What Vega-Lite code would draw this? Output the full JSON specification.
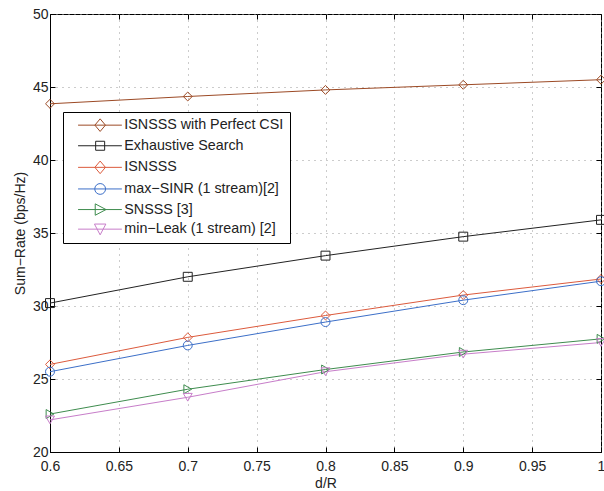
{
  "$schema": "https://vega.github.io/schema/vega-lite/v6.json",
  "autosize": "none",
  "width": 551,
  "height": 438,
  "padding": {"left": 50, "top": 14, "right": 3, "bottom": 39},
  "background": "white",
  "config": {
    "font": "Liberation Sans",
    "view": {"stroke": "#000", "strokeWidth": 1},
    "axis": {
      "labelFont": "Liberation Sans",
      "labelFontSize": 14,
      "labelColor": "#222",
      "titleFont": "Liberation Sans",
      "titleFontSize": 14,
      "titleFontWeight": "normal",
      "titleColor": "#222",
      "domainColor": "#000",
      "tickColor": "#000",
      "gridColor": "#999",
      "gridDash": [1, 5],
      "gridOpacity": 1
    }
  },
  "data": {
    "values": [
      {"series": "ISNSSS with Perfect CSI", "x": 0.6, "y": 43.85},
      {"series": "ISNSSS with Perfect CSI", "x": 0.7, "y": 44.35},
      {"series": "ISNSSS with Perfect CSI", "x": 0.8, "y": 44.8},
      {"series": "ISNSSS with Perfect CSI", "x": 0.9, "y": 45.15},
      {"series": "ISNSSS with Perfect CSI", "x": 1.0, "y": 45.5},
      {"series": "Exhaustive Search", "x": 0.6, "y": 30.2},
      {"series": "Exhaustive Search", "x": 0.7, "y": 32.0},
      {"series": "Exhaustive Search", "x": 0.8, "y": 33.45},
      {"series": "Exhaustive Search", "x": 0.9, "y": 34.75},
      {"series": "Exhaustive Search", "x": 1.0, "y": 35.9},
      {"series": "ISNSSS", "x": 0.6, "y": 26.0},
      {"series": "ISNSSS", "x": 0.7, "y": 27.85},
      {"series": "ISNSSS", "x": 0.8, "y": 29.35},
      {"series": "ISNSSS", "x": 0.9, "y": 30.75},
      {"series": "ISNSSS", "x": 1.0, "y": 31.85},
      {"series": "max−SINR (1 stream)[2]", "x": 0.6, "y": 25.5},
      {"series": "max−SINR (1 stream)[2]", "x": 0.7, "y": 27.3},
      {"series": "max−SINR (1 stream)[2]", "x": 0.8, "y": 28.9},
      {"series": "max−SINR (1 stream)[2]", "x": 0.9, "y": 30.4},
      {"series": "max−SINR (1 stream)[2]", "x": 1.0, "y": 31.7},
      {"series": "SNSSS [3]", "x": 0.6, "y": 22.6},
      {"series": "SNSSS [3]", "x": 0.7, "y": 24.3},
      {"series": "SNSSS [3]", "x": 0.8, "y": 25.65},
      {"series": "SNSSS [3]", "x": 0.9, "y": 26.85},
      {"series": "SNSSS [3]", "x": 1.0, "y": 27.75},
      {"series": "min−Leak (1 stream) [2]", "x": 0.6, "y": 22.2},
      {"series": "min−Leak (1 stream) [2]", "x": 0.7, "y": 23.75},
      {"series": "min−Leak (1 stream) [2]", "x": 0.8, "y": 25.5},
      {"series": "min−Leak (1 stream) [2]", "x": 0.9, "y": 26.7},
      {"series": "min−Leak (1 stream) [2]", "x": 1.0, "y": 27.5}
    ]
  },
  "layer": [
    {
      "mark": {"type": "line", "strokeWidth": 1},
      "encoding": {
        "x": {
          "field": "x", "type": "quantitative",
          "scale": {"domain": [0.6, 1], "nice": false, "zero": false},
          "axis": {
            "title": "d/R", "values": [0.6, 0.65, 0.7, 0.75, 0.8, 0.85, 0.9, 0.95, 1],
            "format": ".2~f", "grid": true, "tickSize": -5, "labelPadding": 12, "titlePadding": 3,
            "labelFlush": false
          }
        },
        "y": {
          "field": "y", "type": "quantitative",
          "scale": {"domain": [20, 50], "nice": false, "zero": false},
          "axis": {
            "title": "Sum−Rate (bps/Hz)", "values": [20, 25, 30, 35, 40, 45, 50],
            "grid": true, "tickSize": -5, "labelPadding": 7, "titlePadding": 5,
            "labelFlush": false
          }
        },
        "color": {
          "field": "series", "type": "nominal",
          "scale": {
            "domain": ["ISNSSS with Perfect CSI", "Exhaustive Search", "ISNSSS", "max−SINR (1 stream)[2]", "SNSSS [3]", "min−Leak (1 stream) [2]"],
            "range": ["#9C4A25", "#222222", "#DC5A3C", "#3C6FC8", "#3E8C4E", "#C77DC9"]
          },
          "legend": {
            "title": null,
            "orient": "none",
            "legendX": 13,
            "legendY": 98,
            "padding": 6,
            "strokeColor": "#000",
            "fillColor": "white",
            "labelFont": "Liberation Sans",
            "labelFontSize": 14.3,
            "labelColor": "#222",
            "labelLimit": 300,
            "symbolSize": 144,
            "symbolType": "M0.32,0H7.62",
            "labelOffset": 41,
            "rowPadding": 4.6,
            "encode": {
              "symbols": {
                "update": {
                  "shape": {"signal": "datum.value == 'ISNSSS with Perfect CSI' || datum.value == 'ISNSSS' ? 'M0.32,0H7.62M4.0,-1.05L4.88,0L4.0,1.05L3.12,0Z' : datum.value == 'Exhaustive Search' ? 'M0.32,0H7.62M3.25,-0.75H4.75V0.75H3.25Z' : datum.value == 'SNSSS [3]' ? 'M0.32,0H7.62M3.18,-0.95L4.98,0L3.18,0.95Z' : indexof(datum.value, 'SINR') >= 0 ? 'M0.32,0H7.62M3.1,0A0.9,0.9 0 1,0 4.9,0A0.9,0.9 0 1,0 3.1,0Z' : 'M0.32,0H7.62M3.05,-0.85H4.95L4.0,0.95Z'"},
                  "fill": {"value": "transparent"},
                  "strokeWidth": {"value": 1},
                  "size": {"value": 144},
                  "opacity": {"value": 1}
                }
              }
            }
          }
        }
      }
    },
    {
      "mark": {"type": "point", "filled": false, "opacity": 1, "strokeWidth": 1, "size": 80},
      "encoding": {
        "x": {"field": "x", "type": "quantitative", "axis": {"orient": "top", "labels": false, "title": null, "domain": false, "grid": false, "tickSize": -5, "values": [0.6, 0.65, 0.7, 0.75, 0.8, 0.85, 0.9, 0.95, 1]}},
        "y": {"field": "y", "type": "quantitative", "axis": {"orient": "right", "labels": false, "title": null, "domain": false, "grid": false, "tickSize": -5, "values": [20, 25, 30, 35, 40, 45, 50]}},
        "color": {"field": "series", "type": "nominal", "legend": null},
        "shape": {
          "field": "series", "type": "nominal", "legend": null,
          "scale": {
            "domain": ["ISNSSS with Perfect CSI", "Exhaustive Search", "ISNSSS", "max−SINR (1 stream)[2]", "SNSSS [3]", "min−Leak (1 stream) [2]"],
            "range": ["diamond", "square", "diamond", "circle", "triangle-right", "triangle-down"]
          }
        }
      }
    }
  ],
  "resolve": {"axis": {"x": "independent", "y": "independent"}, "legend": {"color": "independent", "shape": "independent"}}
}
